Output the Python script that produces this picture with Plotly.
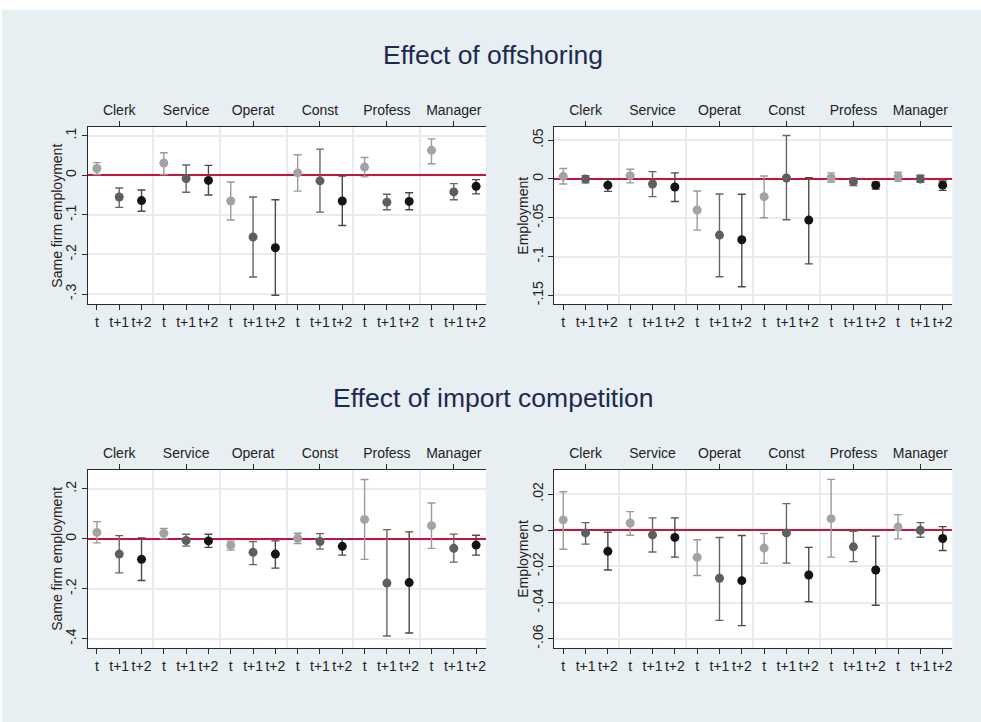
import plotly.graph_objects as go

# ---------------- data ----------------
occupations = ["Clerk", "Service", "Operat", "Const", "Profess", "Manager"]
horizons = ["t", "t+1", "t+2"]

# order: Clerk t, t+1, t+2, Service t, t+1, t+2, ...
off_same_est = [0.017, -0.055, -0.064, 0.031, -0.008, -0.013, -0.065, -0.156, -0.183,
                0.006, -0.014, -0.065, 0.021, -0.068, -0.066, 0.063, -0.042, -0.028]
off_same_hi = [0.032, -0.032, -0.037, 0.057, 0.026, 0.025, -0.017, -0.055, -0.062,
               0.052, 0.066, -0.002, 0.045, -0.048, -0.044, 0.092, -0.021, -0.011]
off_same_lo = [0.002, -0.081, -0.091, 0.002, -0.043, -0.050, -0.113, -0.257, -0.303,
               -0.040, -0.093, -0.127, -0.004, -0.087, -0.087, 0.029, -0.062, -0.047]

off_emp_est = [0.0034, 0.0, -0.008, 0.0043, -0.0065, -0.0103, -0.040, -0.0724, -0.0784,
               -0.0228, 0.0013, -0.053, 0.0017, -0.0034, -0.008, 0.003, 0.0, -0.008]
off_emp_hi = [0.0134, 0.0043, 0.0, 0.0125, 0.0095, 0.0078, -0.0155, -0.0194, -0.0198,
              0.0039, 0.056, 0.0017, 0.0078, 0.001, -0.0043, 0.0086, 0.0047, -0.0026]
off_emp_lo = [-0.0065, -0.005, -0.016, -0.005, -0.0228, -0.029, -0.066, -0.126, -0.139,
              -0.050, -0.0526, -0.1095, -0.0039, -0.0086, -0.013, -0.003, -0.0043, -0.0147]

imp_same_est = [0.026, -0.061, -0.082, 0.0225, -0.0066, -0.008, -0.026, -0.054, -0.061,
                0.0026, -0.0106, -0.030, 0.078, -0.177, -0.175, 0.053, -0.038, -0.025]
imp_same_hi = [0.069, 0.013, 0.004, 0.042, 0.0185, 0.0185, -0.009, -0.0106, -0.008,
               0.0225, 0.021, 0.0, 0.238, 0.037, 0.028, 0.144, 0.019, 0.0146]
imp_same_lo = [-0.016, -0.136, -0.167, 0.0, -0.029, -0.034, -0.045, -0.103, -0.117,
               -0.0185, -0.041, -0.065, -0.082, -0.389, -0.377, -0.038, -0.093, -0.065]

imp_emp_est = [0.0057, -0.0015, -0.0117, 0.004, -0.0026, -0.004, -0.015, -0.0266, -0.0279,
               -0.0099, -0.0015, -0.0248, 0.0064, -0.0092, -0.022, 0.0017, 0.0, -0.0046]
imp_emp_hi = [0.0213, 0.0042, -0.0011, 0.0103, 0.0068, 0.0068, -0.0053, -0.004, -0.0029,
              -0.0018, 0.0147, -0.0095, 0.0281, -0.0006, -0.0033, 0.0086, 0.0042, 0.002]
imp_emp_lo = [-0.0105, -0.0077, -0.022, -0.0028, -0.0121, -0.0149, -0.0251, -0.0499, -0.0528,
              -0.0183, -0.0182, -0.0396, -0.0149, -0.0174, -0.0415, -0.0048, -0.0039, -0.0112]

same_ticks = [0.1, 0.0, -0.1, -0.2, -0.3]
same_ticktext = [".1", "0", "-.1", "-.2", "-.3"]
emp_off_ticks = [0.05, 0.0, -0.05, -0.1, -0.15]
emp_off_ticktext = [".05", "0", "-.05", "-.1", "-.15"]
imp_same_ticks = [0.2, 0.0, -0.2, -0.4]
imp_same_ticktext = [".2", "0", "-.2", "-.4"]
imp_emp_ticks = [0.02, 0.0, -0.02, -0.04, -0.06]
imp_emp_ticktext = [".02", "0", "-.02", "-.04", "-.06"]

titles = ["Effect of offshoring", "Effect of import competition"]
ytitles = ["Same firm employment", "Employment"]

# ---------------- styling ----------------
W, H = 981, 722
BG = "#E8EFF2"
GRID = "#E6EDF0"
AXC = "#2a2a2a"
ZERO = "#C8143C"
TITLEC = "#1C2A50"
FONT = "Liberation Sans, Arial, sans-serif"
FS = 14
pt_colors = ["#A3A3A3", "#5E5E5E", "#141414"]
bar_colors = ["#9A9A9A", "#666666", "#4A4A4A"]

def px_x(p):
    return p / W

def px_y(p):
    return 1 - p / H

left_dom = [px_x(88), px_x(485.7)]
right_dom = [px_x(554.3), px_x(952.3)]
top_dom = [px_y(304.3), px_y(127)]
bot_dom = [px_y(647.7), px_y(470)]
xrange_ = [0.6, 18.43]

panels = [
    dict(est=off_same_est, lo=off_same_lo, hi=off_same_hi, xd=left_dom, yd=top_dom,
         yr=[-0.326, 0.122], tv=same_ticks, tt=same_ticktext),
    dict(est=off_emp_est, lo=off_emp_lo, hi=off_emp_hi, xd=right_dom, yd=top_dom,
         yr=[-0.1616, 0.067], tv=emp_off_ticks, tt=emp_off_ticktext),
    dict(est=imp_same_est, lo=imp_same_lo, hi=imp_same_hi, xd=left_dom, yd=bot_dom,
         yr=[-0.436, 0.276], tv=imp_same_ticks, tt=imp_same_ticktext),
    dict(est=imp_emp_est, lo=imp_emp_lo, hi=imp_emp_hi, xd=right_dom, yd=bot_dom,
         yr=[-0.065, 0.0333], tv=imp_emp_ticks, tt=imp_emp_ticktext),
]

nh = len(horizons)
positions = list(range(1, len(occupations) * nh + 1))
bottom_labels = [horizons[i % nh] for i in range(len(positions))]
group_centers = [g * nh + 2 for g in range(len(occupations))]

fig = go.Figure()
layout = dict()
tickfont = dict(family=FONT, size=FS, color="#222222")

for i, p in enumerate(panels):
    n = i + 1
    xb = f"x{n}" if n > 1 else "x"
    yb = f"y{n}" if n > 1 else "y"
    xt_n = n + 4
    xt = f"x{xt_n}"
    for h in range(nh):
        idx = [g * nh + h for g in range(len(occupations))]
        xs = [positions[k] for k in idx]
        ys = [p["est"][k] for k in idx]
        up = [p["hi"][k] - p["est"][k] for k in idx]
        dn = [p["est"][k] - p["lo"][k] for k in idx]
        fig.add_trace(go.Scatter(
            x=xs, y=ys, mode="markers", xaxis=xb, yaxis=yb,
            marker=dict(size=9, color=pt_colors[h]),
            error_y=dict(type="data", symmetric=False, array=up, arrayminus=dn,
                         color=bar_colors[h], thickness=1.4, width=4),
            showlegend=False, hoverinfo="skip"))
    # empty trace so the top axis subplot exists
    fig.add_trace(go.Scatter(x=[None], y=[None], xaxis=xt, yaxis=yb,
                             showlegend=False, hoverinfo="skip"))

    kx = "xaxis" if n == 1 else f"xaxis{n}"
    ky = "yaxis" if n == 1 else f"yaxis{n}"
    layout[kx] = dict(
        domain=p["xd"], anchor=yb, range=xrange_, showgrid=False, zeroline=False,
        showline=True, linecolor=AXC, linewidth=1,
        tickmode="array", tickvals=positions, ticktext=bottom_labels,
        ticks="outside", ticklen=5, tickcolor=AXC, tickwidth=1, tickfont=tickfont,
        minor=dict(tick0=0.5, dtick=nh, showgrid=True, gridcolor=GRID, gridwidth=1.5, ticks=""),
    )
    layout[f"xaxis{xt_n}"] = dict(
        domain=p["xd"], anchor=yb, overlaying=xb, side="top", range=xrange_,
        showgrid=False, zeroline=False, showline=True, linecolor=AXC, linewidth=1,
        tickmode="array", tickvals=group_centers, ticktext=occupations,
        ticks="outside", ticklen=5, tickcolor=AXC, tickwidth=1, tickfont=tickfont,
    )
    layout[ky] = dict(
        domain=p["yd"], anchor=xb, range=p["yr"], showgrid=True, gridcolor=GRID,
        gridwidth=1.5, zeroline=True, zerolinecolor=ZERO, zerolinewidth=1.5,
        showline=True, linecolor=AXC, linewidth=1,
        tickmode="array", tickvals=p["tv"], ticktext=p["tt"], tickangle=-90,
        ticks="outside", ticklen=5, tickcolor=AXC, tickwidth=1, tickfont=tickfont,
    )

annotations = []
annotations.append(dict(text=titles[0], x=0.503, y=px_y(55), xref="paper", yref="paper",
                        showarrow=False, xanchor="center", yanchor="middle",
                        font=dict(family=FONT, size=26.5, color=TITLEC)))
annotations.append(dict(text=titles[1], x=0.503, y=px_y(398), xref="paper", yref="paper",
                        showarrow=False, xanchor="center", yanchor="middle",
                        font=dict(family=FONT, size=26.5, color=TITLEC)))
for yc in [px_y((127 + 304.3) / 2), px_y((470 + 647.7) / 2)]:
    annotations.append(dict(text=ytitles[0], x=px_x(57), y=yc, xref="paper", yref="paper",
                            showarrow=False, textangle=-90, xanchor="center", yanchor="middle",
                            font=dict(family=FONT, size=FS, color="#222222")))
    annotations.append(dict(text=ytitles[1], x=px_x(523), y=yc, xref="paper", yref="paper",
                            showarrow=False, textangle=-90, xanchor="center", yanchor="middle",
                            font=dict(family=FONT, size=FS, color="#222222")))

shapes = [
    dict(type="rect", xref="paper", yref="paper", x0=-0.01, x1=1.01, y0=px_y(10), y1=1.01,
         fillcolor="white", line=dict(width=0), layer="below"),
    dict(type="rect", xref="paper", yref="paper", x0=-0.01, x1=px_x(2), y0=-0.01, y1=1.01,
         fillcolor="white", line=dict(width=0), layer="below"),
]

fig.update_layout(
    width=W, height=H, margin=dict(l=0, r=0, t=0, b=0),
    paper_bgcolor=BG, plot_bgcolor="white",
    annotations=annotations, shapes=shapes,
    font=dict(family=FONT, size=FS, color="#222222"),
    **layout,
)

fig.write_html(
    "out.html",
    config={"displayModeBar": False},
    post_script=(
        "document.body.style.margin='0px';document.body.style.padding='0px';"
        "document.body.style.overflow='hidden';"
        "document.body.style.background='" + BG + "';"
        "document.documentElement.style.background='" + BG + "';"
    ),
)
